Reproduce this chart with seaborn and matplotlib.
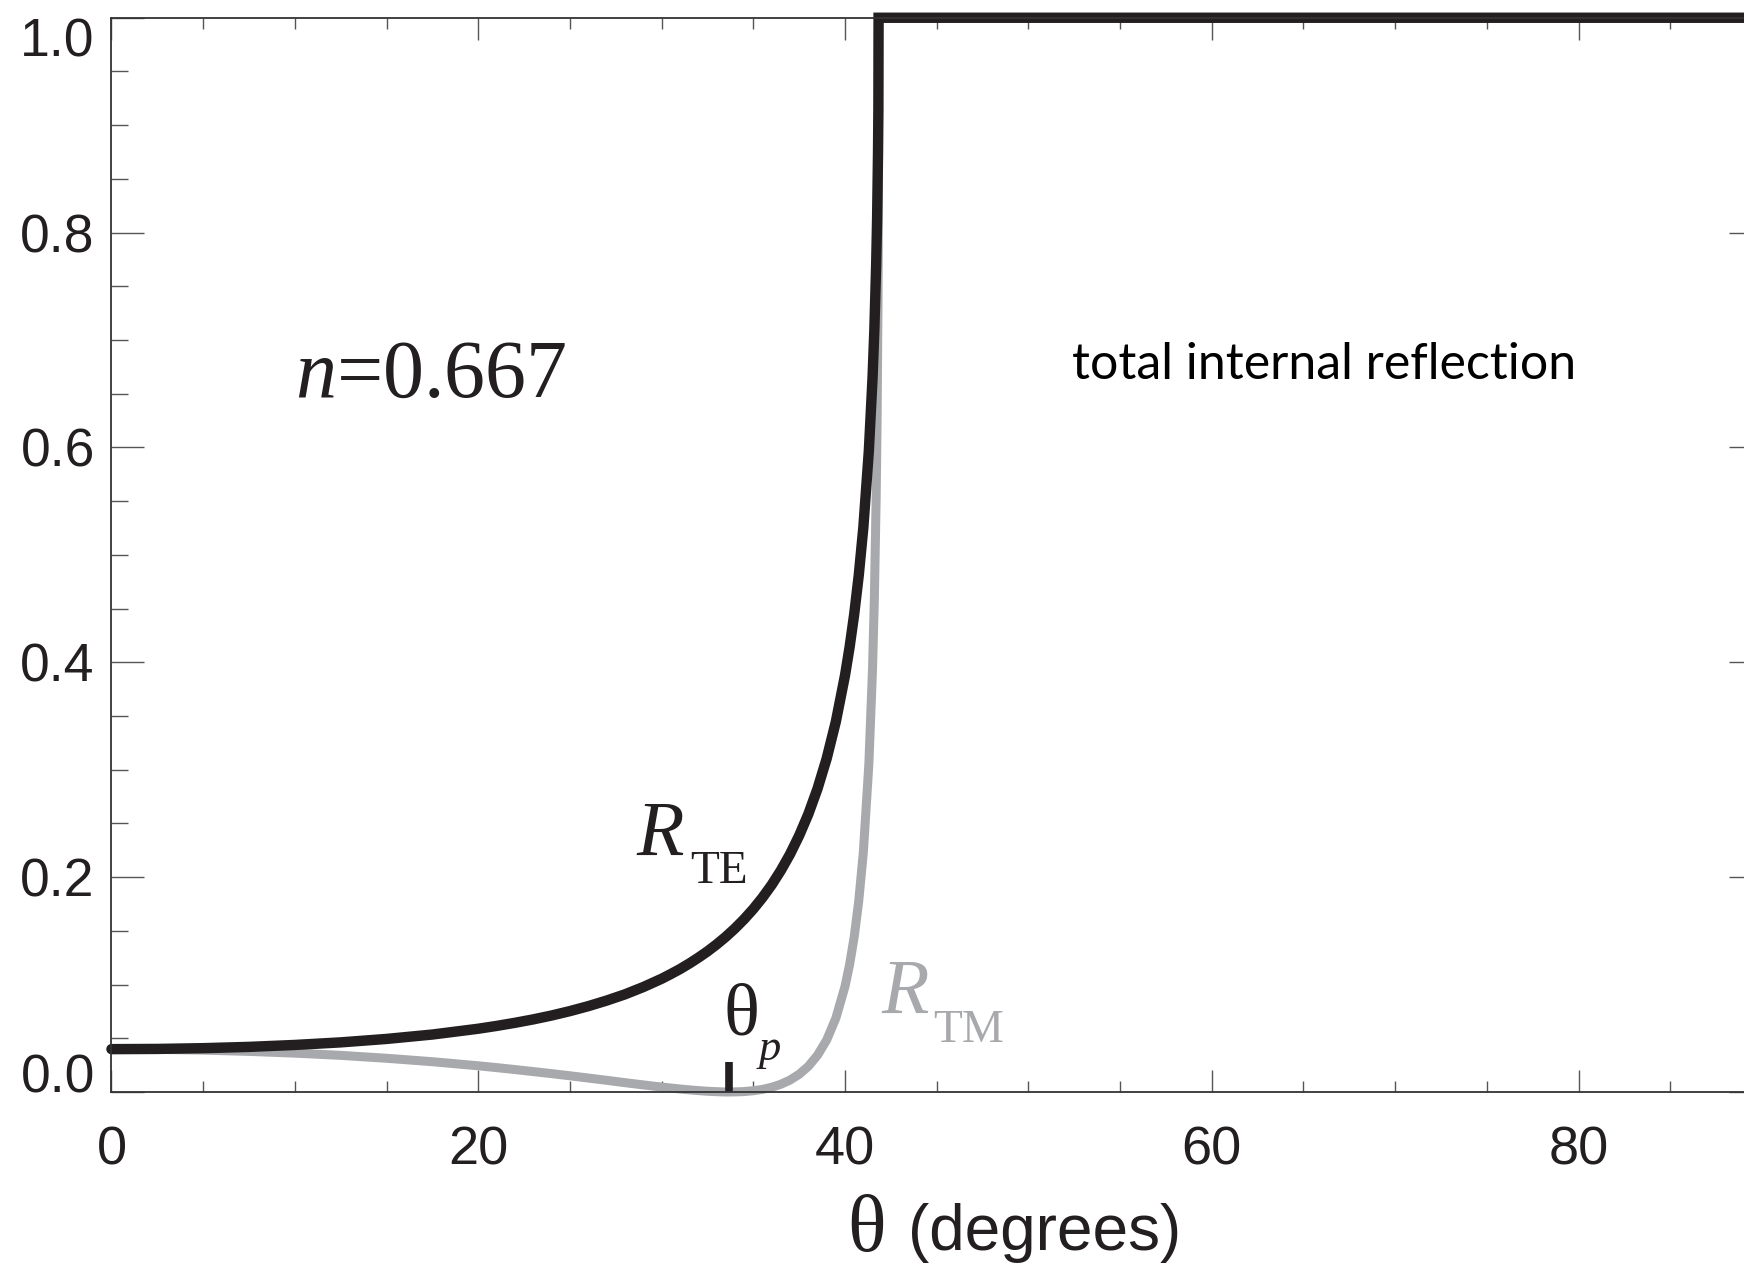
import matplotlib
matplotlib.use("Agg")
import matplotlib.pyplot as plt
import pandas as pd
import seaborn as sns
from matplotlib.ticker import MultipleLocator

sns.set_theme(style="ticks")
plt.rcParams["font.family"] = ["Liberation Sans", "DejaVu Sans"]
plt.rcParams["mathtext.fontset"] = "custom"
plt.rcParams["mathtext.rm"] = "Liberation Serif"
plt.rcParams["mathtext.it"] = "Liberation Serif:italic"

# values
theta_deg = [0, 2.5, 5, 7.5, 10, 12.5, 15, 17.5, 20, 21, 22, 23, 24, 25, 26,
             27, 28, 29, 30, 30.5, 31, 31.5, 32, 32.5, 33, 33.5, 34, 34.5, 35,
             35.5, 36, 36.5, 37, 37.5, 38, 38.5, 39, 39.5, 40, 40.25, 40.5,
             40.75, 41, 41.3, 41.5, 41.6, 41.7, 41.75, 41.8, 41.82, 41.83,
             42, 50, 60, 70, 80, 90]
r_te = [0.0399, 0.0401, 0.0408, 0.0420, 0.0438, 0.0462, 0.0494, 0.0535,
        0.0589, 0.0615, 0.0644, 0.0676, 0.0712, 0.0753, 0.0799, 0.0851,
        0.0909, 0.0977, 0.1054, 0.1098, 0.1144, 0.1195, 0.1250, 0.1309,
        0.1374, 0.1445, 0.1523, 0.1609, 0.1704, 0.1810, 0.1928, 0.2062,
        0.2213, 0.2387, 0.2587, 0.2823, 0.3104, 0.3447, 0.3878, 0.4141,
        0.4446, 0.4810, 0.5256, 0.5969, 0.6643, 0.7094, 0.7707, 0.8127,
        0.8742, 0.9141, 1.0, 1.0, 1.0, 1.0, 1.0, 1.0, 1.0]
r_tm = [0.0399, 0.0397, 0.0390, 0.0378, 0.0362, 0.0341, 0.0314, 0.0282,
        0.0244, 0.0227, 0.0209, 0.0190, 0.0171, 0.0151, 0.0130, 0.0109,
        0.0087, 0.0066, 0.0046, 0.0037, 0.0028, 0.0020, 0.0013, 0.0007,
        0.0003, 0.0000, 0.0001, 0.0004, 0.0012, 0.0024, 0.0044, 0.0072,
        0.0111, 0.0165, 0.0239, 0.0342, 0.0484, 0.0687, 0.0983, 0.1186,
        0.1443, 0.1779, 0.2232, 0.3051, 0.3935, 0.4587, 0.5549, 0.6264,
        0.7389, 0.8171, 1.0, 1.0, 1.0, 1.0, 1.0, 1.0, 1.0]

theta_p = 33.7
y_ticks = [0.0, 0.2, 0.4, 0.6, 0.8, 1.0]
y_ticklabels = ["0.0", "0.2", "0.4", "0.6", "0.8", "1.0"]
x_ticks = [0, 20, 40, 60, 80]
x_ticklabels = ["0", "20", "40", "60", "80"]

BLACK = "#231f20"
GRAY = "#a7a9ac"

df = pd.DataFrame({"theta": theta_deg, "R_TE": r_te, "R_TM": r_tm})

fig = plt.figure(figsize=(17.44, 12.68), dpi=100)
ax = fig.add_axes([0.0639, 0.1388, 0.9464, 0.8472])

sns.lineplot(data=df, x="theta", y="R_TM", color=GRAY, linewidth=6.5,
             sort=False, estimator=None, clip_on=False, ax=ax,
             solid_joinstyle="miter")
sns.lineplot(data=df, x="theta", y="R_TE", color=BLACK, linewidth=7.5,
             sort=False, estimator=None, clip_on=False, ax=ax,
             solid_joinstyle="miter")

# Brewster angle marker
ax.plot([theta_p, theta_p], [0, 0.028], color=BLACK, linewidth=5.5,
        solid_capstyle="butt")

ax.set_xlim(0, 90)
ax.set_ylim(0, 1)
ax.set_xlabel("")
ax.set_ylabel("")

for s in ax.spines.values():
    s.set_color("#333333")
    s.set_linewidth(1.3)

ax.set_xticks(x_ticks)
ax.set_xticklabels(x_ticklabels)
ax.set_yticks(y_ticks)
ax.set_yticklabels(y_ticklabels)
ax.xaxis.set_minor_locator(MultipleLocator(5))
ax.yaxis.set_minor_locator(MultipleLocator(0.05))

ax.tick_params(which="both", direction="in", top=True, right=True,
               color="#555555", width=1.0, labelcolor=BLACK)
ax.tick_params(axis="x", which="major", length=16, pad=24, labelsize=39)
ax.tick_params(axis="x", which="minor", length=8)
ax.tick_params(axis="y", which="major", length=24, pad=12, labelsize=38.5)
ax.tick_params(axis="y", which="minor", length=12)

ylabels = ax.get_yticklabels()
ylabels[0].set_verticalalignment("baseline")
ylabels[-1].set_verticalalignment("top")

serif = ["Liberation Serif", "DejaVu Serif"]

ax.text(10.0, 0.6468, r"$\mathit{n}$=0.667", fontsize=59, family=serif,
        color=BLACK, ha="left", va="baseline")

ax.text(28.65, 0.2209, "R", fontsize=56, family=serif, style="italic",
        color=BLACK, ha="left", va="baseline")
ax.text(31.54, 0.1948, "TE", fontsize=34, family=serif,
        color=BLACK, ha="left", va="baseline")

ax.text(42.0, 0.0736, "R", fontsize=56, family=serif, style="italic",
        color=GRAY, ha="left", va="baseline")
ax.text(44.8, 0.0466, "TM", fontsize=34, family=serif,
        color=GRAY, ha="left", va="baseline")

ax.text(33.35, 0.0531, "\u03b8", fontsize=54, family=serif,
        color=BLACK, ha="left", va="baseline")
ax.text(35.27, 0.0298, "p", fontsize=32, family=serif, style="italic",
        color=BLACK, ha="left", va="baseline")

ax.text(52.4, 0.6636, "total internal reflection", fontsize=36,
        family=["Lato", "DejaVu Sans"], color="black", ha="left",
        va="baseline")

# axis title
fig.text(847 / 1744, 17 / 1268, "\u03b8", fontsize=58, family=serif,
         color=BLACK, ha="left", va="baseline")
fig.text(908 / 1744, 18 / 1268, "(degrees)", fontsize=46,
         family=["Liberation Sans", "DejaVu Sans"], color=BLACK,
         ha="left", va="baseline")

fig.savefig("out.png", dpi=100, facecolor="white")
